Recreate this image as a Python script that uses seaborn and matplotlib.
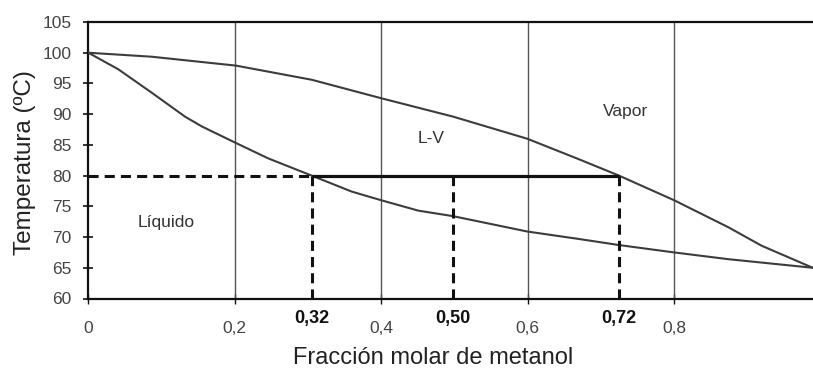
import matplotlib
matplotlib.use("Agg")
import matplotlib.pyplot as plt
import seaborn as sns
import pandas as pd

# ---- data ----
liq_x = [0.0, 0.041, 0.0865, 0.132, 0.155, 0.2017, 0.2457, 0.305, 0.3596, 0.3996, 0.4505, 0.498,
         0.5993, 0.669, 0.7245, 0.7996, 0.8737, 0.989, 1.0]
liq_T = [100.0, 97.3, 93.5, 89.6, 88.0, 85.3, 82.8, 80.0, 77.4, 76.0, 74.3, 73.4,
         70.9, 69.7, 68.7, 67.5, 66.4, 65.0, 64.8]
vap_x = [0.0, 0.0865, 0.2017, 0.305, 0.3996, 0.498, 0.5993, 0.669, 0.7245, 0.7996, 0.8737, 0.919, 0.989, 1.0]
vap_T = [100.0, 99.35, 97.9, 95.6, 92.6, 89.6, 86.0, 82.7, 80.0, 76.0, 71.6, 68.6, 65.0, 64.6]

T_op = 80                      # operating temperature
x_liq, x_feed, x_vap = 0.305, 0.4975, 0.7245   # drawn positions of the tie-line points
bold_labels = ["0,32", "0,50", "0,72"]
major_ticks = [0.0, 0.2, 0.4, 0.6, 0.8]
major_labels = ["0", "0,2", "0,4", "0,6", "0,8"]
y_ticks = list(range(60, 106, 5))

region_labels = ["Líquido", "L-V", "Vapor"]
region_x = [0.107, 0.468, 0.733]
region_T = [72.4, 86.0, 90.4]

df = pd.concat([
    pd.DataFrame({"x": liq_x, "T": liq_T, "curva": "liquido"}),
    pd.DataFrame({"x": vap_x, "T": vap_T, "curva": "vapor"}),
])

sns.set_style("white")
plt.rcParams["font.family"] = ["Liberation Sans", "DejaVu Sans"]

fig = plt.figure(figsize=(8.13, 3.69), dpi=100)
ax = fig.add_axes([88.3 / 813, 1 - 298.5 / 369, 732.5 / 813, (298.5 - 22) / 369])

sns.lineplot(data=df, x="x", y="T", hue="curva", palette=["#3c3c3c", "#3c3c3c"],
             legend=False, sort=False, linewidth=1.5, ax=ax, zorder=3)

# tie line and dashed guides
ax.plot([x_liq, x_vap], [T_op, T_op], color="#111111", lw=2.3, zorder=4, solid_capstyle="butt")
ax.plot([0, x_liq], [T_op, T_op], color="#111111", lw=2.2, dashes=(3.3, 2.0), zorder=4)
for xv in (x_liq, x_feed, x_vap):
    ax.plot([xv, xv], [60, T_op], color="#111111", lw=2.2, dashes=(3.3, 2.0), zorder=4)

for lab, xx, tt in zip(region_labels, region_x, region_T):
    ax.text(xx, tt, lab, ha="center", va="center", fontsize=12.5, color="#333333")

ax.set_xlim(0, 1)
ax.set_ylim(60, 105)
ax.set_yticks(y_ticks)
ax.set_yticklabels([str(v) for v in y_ticks])
ax.set_xticks(major_ticks)
ax.set_xticklabels(major_labels)
ax.set_xticks([x_liq, x_feed, x_vap], minor=True)
ax.set_xticklabels(bold_labels, minor=True, fontweight="bold")

ax.tick_params(axis="y", which="major", direction="inout", length=7, width=1.2,
               color="#111111", labelsize=12.5, labelcolor="#444444", pad=8.4, left=True)
ax.tick_params(axis="x", which="major", direction="inout", length=7, width=1.0,
               color="#111111", labelsize=12.5, labelcolor="#444444", pad=13, bottom=True)
ax.tick_params(axis="x", which="minor", length=0, labelsize=13, labelcolor="#111111", pad=8)

ax.grid(False)
for xg in major_ticks[1:]:
    ax.axvline(xg, color="#555555", lw=1.0, zorder=1)

for side in ("left", "bottom", "top"):
    ax.spines[side].set_visible(True)
    ax.spines[side].set_color("#111111")
    ax.spines[side].set_linewidth(1.6)
ax.spines["right"].set_visible(False)

ax.set_xlabel("Fracción molar de metanol", fontsize=17, color="#222222")
ax.set_ylabel("Temperatura (ºC)", fontsize=17.5, color="#222222")
ax.xaxis.label.set_va("center")
ax.yaxis.label.set_va("center")
ax.xaxis.set_label_coords(0.471, -0.215)
ax.yaxis.set_label_coords(-0.087, 0.493)

fig.savefig("out.png", dpi=100)
